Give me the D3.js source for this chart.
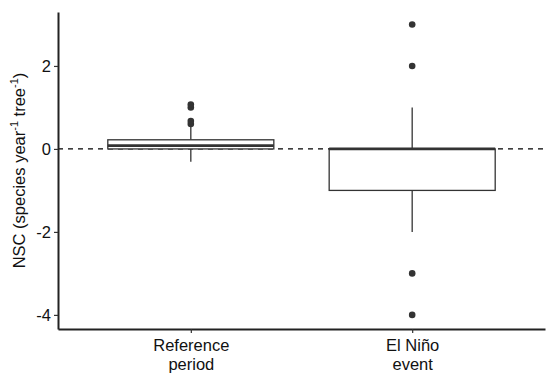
<!DOCTYPE html>
<html>
<head>
<meta charset="utf-8">
<script src="https://cdn.jsdelivr.net/npm/d3@7"></script>
<style>
  body { margin: 0; background: #fff; }
  text { font-family: "Liberation Sans", Arial, sans-serif; }
</style>
</head>
<body>
<svg id="chart"></svg>
<script>
// categories and box statistics
const categories = ['Reference\nperiod', 'El Niño\nevent'];
const lowerWhisker = [-0.31, -2];
const q1 = [0, -1];
const median = [0.08, 0];
const q3 = [0.22, 0];
const upperWhisker = [0.55, 1];
const outliers = [[0.6, 0.67, 1.0, 1.07], [3, 2, -3, -4]];
const yTicks = [-4, -2, 0, 2];

const width = 550, height = 374;
const margin = { top: 12, right: 5, bottom: 45, left: 58 };
const fontSize = 16.5;

const svg = d3.select('#chart')
    .attr('width', width)
    .attr('height', height);

const x = d3.scaleLinear()
    .domain([0.4, 2.6])
    .range([margin.left, width - margin.right]);

const y = d3.scaleLinear()
    .domain([-4.34, 3.3])
    .range([height - margin.bottom, margin.top]);

const boxHalf = 0.375;
const data = categories.map((c, i) => ({
    name: c, pos: i + 1,
    lo: lowerWhisker[i], q1: q1[i], med: median[i], q3: q3[i], hi: upperWhisker[i],
    out: outliers[i]
}));

// dashed zero line
svg.append('line')
    .attr('x1', x(0.4)).attr('x2', x(2.6))
    .attr('y1', y(0)).attr('y2', y(0))
    .attr('stroke', '#000').attr('stroke-width', 1.3)
    .attr('stroke-dasharray', '5,5');

const g = svg.append('g').selectAll('g')
    .data(data)
    .join('g');

g.append('line')
    .attr('x1', d => x(d.pos)).attr('x2', d => x(d.pos))
    .attr('y1', d => y(d.q3)).attr('y2', d => y(d.hi))
    .attr('stroke', '#333').attr('stroke-width', 1.3);

g.append('line')
    .attr('x1', d => x(d.pos)).attr('x2', d => x(d.pos))
    .attr('y1', d => y(d.q1)).attr('y2', d => y(d.lo))
    .attr('stroke', '#333').attr('stroke-width', 1.3);

g.append('rect')
    .attr('x', d => x(d.pos - boxHalf))
    .attr('width', d => x(d.pos + boxHalf) - x(d.pos - boxHalf))
    .attr('y', d => y(d.q3))
    .attr('height', d => y(d.q1) - y(d.q3))
    .attr('fill', '#fff')
    .attr('stroke', '#333').attr('stroke-width', 1.3);

g.append('line')
    .attr('x1', d => x(d.pos - boxHalf)).attr('x2', d => x(d.pos + boxHalf))
    .attr('y1', d => y(d.med)).attr('y2', d => y(d.med))
    .attr('stroke', '#333').attr('stroke-width', 2.6);

g.selectAll('circle')
    .data(d => d.out.map(v => ({ pos: d.pos, v })))
    .join('circle')
    .attr('cx', d => x(d.pos))
    .attr('cy', d => y(d.v))
    .attr('r', 3.3)
    .attr('fill', '#333');

// axes
const yAxis = svg.append('g')
    .attr('transform', `translate(${margin.left},0)`)
    .call(d3.axisLeft(y).tickValues(yTicks).tickSize(4).tickPadding(3).tickSizeOuter(0)
        .tickFormat(d => String(d).replace('−', '-')));

const xAxis = svg.append('g')
    .attr('transform', `translate(0,${height - margin.bottom})`)
    .call(d3.axisBottom(x).tickValues([1, 2]).tickSize(4).tickSizeOuter(0).tickFormat(''));

[yAxis, xAxis].forEach(a => {
    a.select('.domain').attr('stroke', '#222').attr('stroke-width', 2);
    a.selectAll('.tick line').attr('stroke', '#333').attr('stroke-width', 1.2);
    a.selectAll('.tick text').attr('fill', '#111').attr('font-size', fontSize)
        .attr('font-family', '"Liberation Sans", Arial, sans-serif');
});

// multi-line x labels
xAxis.selectAll('.tick')
    .each(function (d) {
        const lines = categories[d - 1].split('\n');
        const t = d3.select(this).append('text')
            .attr('fill', '#111')
            .attr('font-size', fontSize)
            .attr('font-family', '"Liberation Sans", Arial, sans-serif')
            .attr('text-anchor', 'middle');
        lines.forEach((l, i) => {
            t.append('tspan').attr('x', 0).attr('y', 22 + i * 19).text(l);
        });
    });

// y title with superscripts
const title = svg.append('text')
    .attr('transform', `translate(25,${(margin.top + height - margin.bottom) / 2}) rotate(-90)`)
    .attr('text-anchor', 'middle')
    .attr('font-size', fontSize)
    .attr('fill', '#111');
title.append('tspan').text('NSC (species year');
title.append('tspan').attr('dy', -7).attr('font-size', 11).text('-1');
title.append('tspan').attr('dy', 7).text(' tree');
title.append('tspan').attr('dy', -7).attr('font-size', 11).text('-1');
title.append('tspan').attr('dy', 7).text(')');
</script>
</body>
</html>
